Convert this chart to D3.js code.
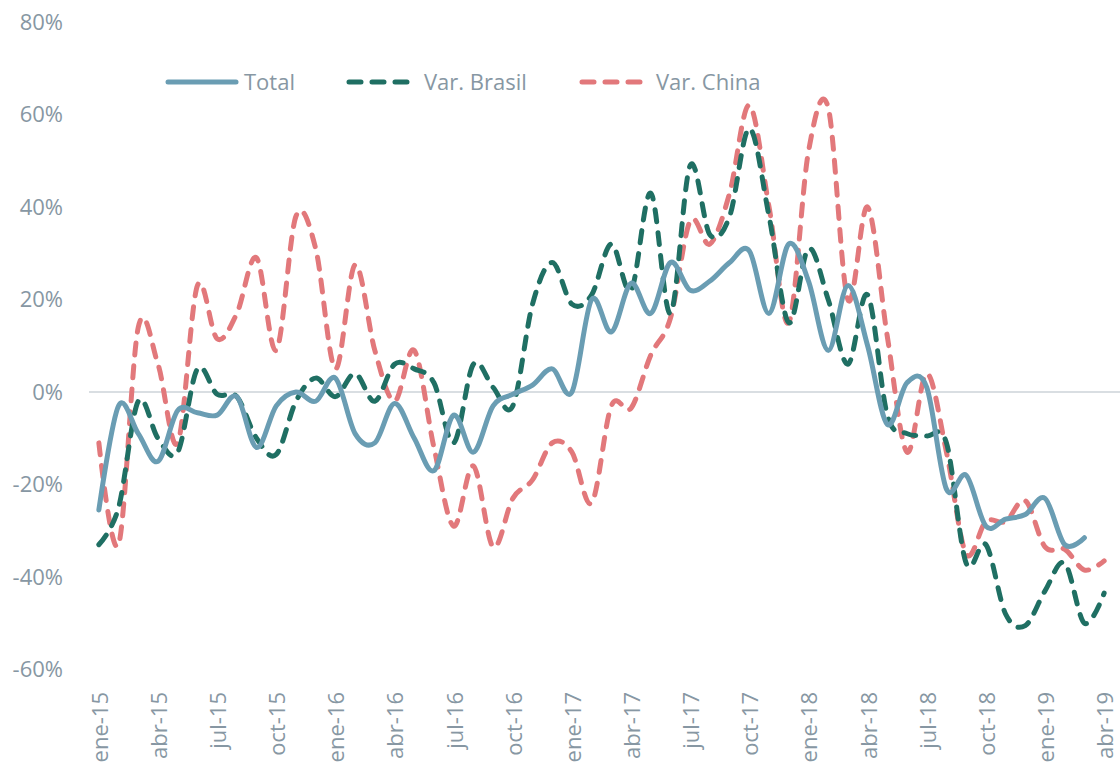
<!DOCTYPE html>
<html><head><meta charset="utf-8">
<script src="https://cdn.jsdelivr.net/npm/d3@7"></script>
<style>body{margin:0;background:#fff}svg{display:block}text{font-family:"Open Sans",sans-serif;fill:#8797A3}</style>
</head><body><svg id="c" width="1120" height="768"></svg>
<script>
const months = ["ene","feb","mar","abr","may","jun","jul","ago","sep","oct","nov","dic"];
const categories = [];
for (let y = 15; y <= 19; y++) for (let m = 0; m < 12; m++) { if (y === 19 && m > 3) break; categories.push(months[m] + "-" + y); }
const tickLabels = categories.filter((d, i) => i % 3 === 0);
const yTicks = [-60, -40, -20, 0, 20, 40, 60, 80];

const total = [-25.5,-3,-9,-15,-4,-4.5,-5,-1,-12,-3,0,-2,3,-9,-11,-2.5,-10,-17,-5,-13,-3,-0.5,1.5,5,0,20,13,23.5,17,28,22,24,28,30.5,17,32,24,9,23,10,-7,2,1,-21,-18,-29,-27.5,-26.5,-23,-33,-31.5];
const brasil = [-33,-25,-2,-10,-13,5,-0.5,-1,-10,-13.5,-2,3,-1,4,-2,6,5,2,-11,6,1,-3,19,28,19,21,32,22,43,17,49,34,38,57,38,15,31,20,6,21,-5,-9,-9.5,-11,-37,-33,-48,-50.5,-43,-37,-50,-43.5];
const china = [-11,-33,14,6,-11,23,11.5,17,29,9,38,31,5,27.5,9,-2,9,-12,-29,-16,-33.5,-23,-19,-11,-13,-24,-3,-3.5,8,16,37,32,43,62,40,15,52,61.5,20,40,12,-13,4,-13,-35,-28,-28,-23.5,-33.5,-34,-38.5,-36.5];

const svg = d3.select("#c");
const x = d3.scalePoint().domain(categories).range([89, 1114]).padding(0.5);
const y = d3.scaleLinear().domain([-60, 80]).range([669.5, 22]);

// zero line
svg.append("line").attr("x1", 89).attr("x2", 1120).attr("y1", y(0)).attr("y2", y(0))
  .attr("stroke", "#D9DEE2").attr("stroke-width", 2);

// y axis labels
svg.append("g").selectAll("text").data(yTicks).join("text")
  .attr("x", 63).attr("y", d => y(d)).attr("dy", "0.36em").attr("text-anchor", "end")
  .style("font-size", "22px").text(d => d + "%");

// x axis labels
svg.append("g").selectAll("text").data(tickLabels).join("text")
  .attr("transform", d => `translate(${x(d) + 1},692) rotate(-90)`)
  .attr("dy", "0.36em").attr("text-anchor", "end")
  .style("font-size", "22px").text(d => d);

const line = d3.line().x((d, i) => x(categories[i])).y(d => y(d)).curve(d3.curveCardinal.tension(0));

const series = [
  {name: "Total", data: total, color: "#6A9DB3", dash: null},
  {name: "Var. Brasil", data: brasil, color: "#1F6F63", dash: "12,11"},
  {name: "Var. China", data: china, color: "#E2787B", dash: "12,11"}
];
const order = [series[2], series[1], series[0]];
order.forEach(s => {
  svg.append("path").datum(s.data).attr("d", line).attr("fill", "none")
    .attr("stroke", s.color).attr("stroke-width", 5).attr("stroke-linecap", "round")
    .attr("stroke-linejoin", "round").attr("stroke-dasharray", s.dash);
});

// legend
const legendPos = [{x1: 168, x2: 236, tx: 244}, {x1: 349, x2: 411, tx: 424}, {x1: 582, x2: 645, tx: 656}];
series.forEach((s, i) => {
  const p = legendPos[i];
  svg.append("line").attr("x1", p.x1).attr("x2", p.x2).attr("y1", 82).attr("y2", 82)
    .attr("stroke", s.color).attr("stroke-width", 5).attr("stroke-linecap", "round")
    .attr("stroke-dasharray", s.dash);
  svg.append("text").attr("x", p.tx).attr("y", 82).attr("dy", "0.36em")
    .style("font-size", "22px").text(s.name);
});
</script></body></html>
